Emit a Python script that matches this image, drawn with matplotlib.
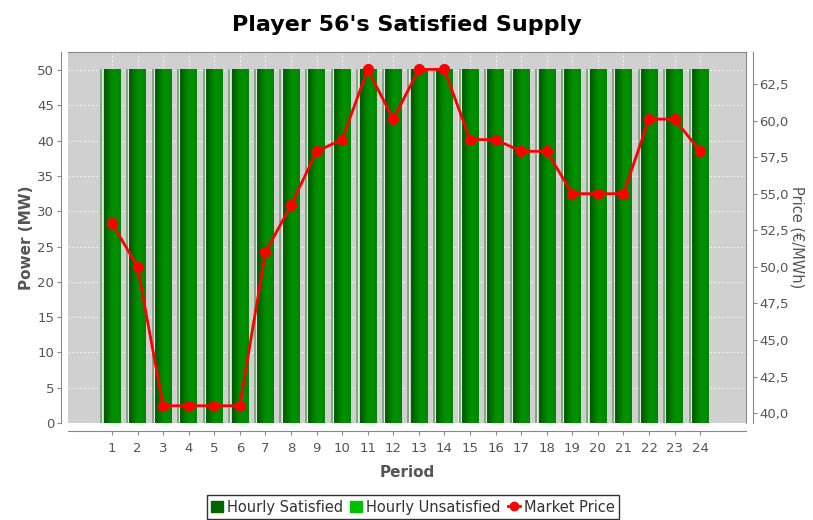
import matplotlib
matplotlib.use("Agg")
import matplotlib.pyplot as plt
import numpy as np
from matplotlib.ticker import FuncFormatter, MultipleLocator
from matplotlib.lines import Line2D
from matplotlib.patches import Patch

# data
periods = list(range(1, 25))
satisfied = [50] * 24
unsatisfied = [0] * 24
price = [53.0, 50.0, 40.5, 40.5, 40.5, 40.5, 51.0, 54.2, 57.9, 58.7, 63.5, 60.1,
         63.5, 63.5, 58.7, 58.7, 57.9, 57.9, 55.0, 55.0, 55.0, 60.1, 60.1, 57.9]

grey = "#555555"

fig = plt.figure(figsize=(8.13, 5.2), dpi=100)
ax = fig.add_axes([0.0836, 0.1865, 0.8336, 0.7135])
ax.set_facecolor("#d0d0d0")
for s in ax.spines.values():
    s.set_color("#888888")

x = np.array(periods)

# gradient bars (dark left edge, lighter right part)
grad = np.array([[0.1, 0.5, 0.8, 1.0, 0.95, 0.8]])
cmap = matplotlib.colors.LinearSegmentedColormap.from_list("g", ["#005c00", "#009200"])
w = 0.32
for xi, v in zip(x, satisfied):
    ax.imshow(grad, cmap=cmap, aspect="auto", extent=(xi - w, xi + w, 0, v),
              interpolation="bicubic", zorder=2)
    ax.plot([xi - 0.45, xi - 0.45], [0, v], color="#f2f2f2", lw=0.8, alpha=0.8, zorder=2)
    ax.plot([xi - 0.41, xi - 0.41], [0, v], color="#6e9e6e", lw=1.2, zorder=2)
    ax.plot([xi - 0.37, xi - 0.37], [0, v], color="#eeeeee", lw=0.8, alpha=0.8, zorder=2)
ax.bar(x, unsatisfied, bottom=satisfied, width=2 * w, color="#00c000", zorder=2)

ax.set_xlim(-0.72, 25.78)
ax.set_ylim(0, 52.55)
ax.yaxis.set_major_locator(MultipleLocator(5))
ax.set_xticks(x)
ax.set_xticklabels([str(p) for p in periods])
ax.grid(True, color="#f4f4f4", ls=(0, (2, 2)), lw=0.7, zorder=1)
ax.set_axisbelow(True)

ax.spines["left"].set_position(("outward", 5))
ax.spines["bottom"].set_position(("outward", 6))
ax.tick_params(axis="x", colors="#888888", labelcolor=grey, labelsize=9.5, length=3, pad=5)
ax.tick_params(axis="y", colors="#888888", labelcolor=grey, labelsize=9.5, length=3, pad=2)
ax.set_xlabel("Period", fontsize=11, fontweight="bold", color=grey, labelpad=7)
ax.set_ylabel("Power (MW)", fontsize=11, fontweight="bold", color=grey, labelpad=2)

ax2 = ax.twinx()
ax2.set_ylim(39.32, 64.69)
ax2.yaxis.set_major_locator(MultipleLocator(2.5))
ax2.yaxis.set_major_formatter(FuncFormatter(lambda v, p: ("%.1f" % v).replace(".", ",")))
ax2.spines["right"].set_position(("outward", 5))
ax2.spines["right"].set_color("#888888")
for k in ["left", "top", "bottom"]:
    ax2.spines[k].set_visible(False)
ax2.tick_params(axis="y", colors="#888888", labelcolor=grey, labelsize=9.5, length=3, pad=2)
ax2.set_ylabel("Price (\u20ac/MWh)", fontsize=10.5, color=grey, rotation=270, labelpad=11)
ax2.plot(x, price, color="red", lw=2, marker="o", ms=7, zorder=5)

fig.suptitle("Player 56's Satisfied Supply", fontsize=16, fontweight="heavy", y=0.972, va="top")

handles = [Patch(color="#006400"), Patch(color="#00c000"),
           Line2D([], [], color="red", lw=2, marker="o", ms=6)]
leg = fig.legend(handles, ["Hourly Satisfied", "Hourly Unsatisfied", "Market Price"],
                 loc="lower center", bbox_to_anchor=(0.508, -0.012), ncol=3, frameon=True,
                 fancybox=False, edgecolor="black", fontsize=10.5, handlelength=0.8,
                 handletextpad=0.3, columnspacing=0.5, borderpad=0.3)
leg.get_frame().set_linewidth(1)
for t in leg.get_texts():
    t.set_color("#333333")

fig.savefig("out.png", dpi=100)
